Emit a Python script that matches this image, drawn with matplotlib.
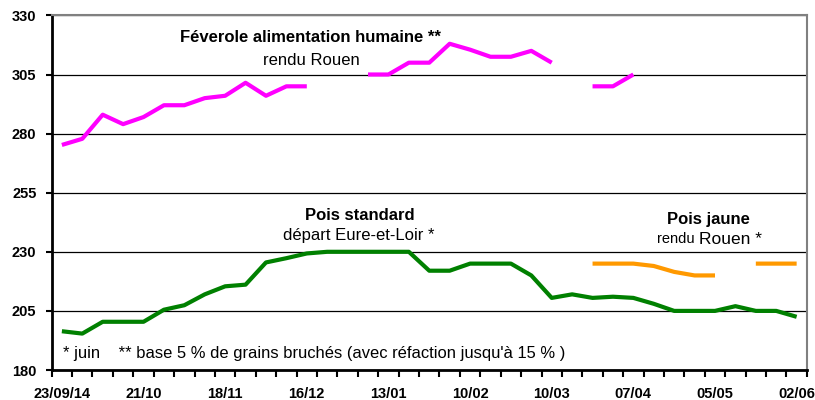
import numpy as np
import matplotlib
matplotlib.use("Agg")
import matplotlib.pyplot as plt

nan = np.nan

# weekly prices, 23/09/14 -> 02/06/15 (37 weeks), euros/t
weeks = list(range(37))
tick_labels = ["23/09/14", "21/10", "18/11", "16/12", "13/01",
               "10/02", "10/03", "07/04", "05/05", "02/06"]

feverole = [275.2, 277.8, 288, 284, 287, 292, 292, 295, 296, 301.5,
            296, 300, 300, nan, nan, 305, 305, 310, 310, 318,
            315.5, 312.5, 312.5, 315, 310, nan, 300, 300, 305, nan,
            nan, nan, nan, nan, nan, nan, nan]

pois_std = [196.4, 195.4, 200.4, 200.4, 200.4, 205.5, 207.4, 212, 215.4, 216.1,
            225.5, 227.3, 229.3, 230, 230, 230, 230, 230, 222, 222,
            225, 225, 225, 220, 210.5, 212, 210.5, 211, 210.5, 208,
            205, 205, 205, 207, 205, 205, 202.5]

pois_jaune = [nan] * 26 + [225, 225, 225, 224, 221.5, 220, 220, nan, 225, 225, 225]

plt.rcParams["font.family"] = ["Liberation Sans", "DejaVu Sans"]

fig = plt.figure(figsize=(8.15, 4), dpi=100)
ax = fig.add_axes([0.0634, 0.075, 0.9266, 0.8865])

ax.plot(weeks, feverole, color="#FF00FF", lw=3, solid_capstyle="butt")
ax.plot(weeks, pois_std, color="#008000", lw=3, solid_capstyle="butt")
ax.plot(weeks, pois_jaune, color="#FF9900", lw=3, solid_capstyle="butt")

ax.set_xlim(-0.5, 36.5)
ax.set_ylim(180, 330)

yt = np.arange(180, 331, 25)
ax.set_yticks(yt)
ax.set_yticklabels([str(v) for v in yt], fontweight="bold", fontsize=10.5)
ax.grid(axis="y", color="black", lw=0.9)
ax.set_axisbelow(True)

# ticks between categories, labels every 4 weeks
ax.set_xticks(np.arange(-0.5, 37, 1))
ax.set_xticklabels([])
ax.set_xticks(weeks[::4], minor=True)
ax.set_xticklabels(tick_labels, minor=True, fontweight="bold", fontsize=10.5)
ax.tick_params(axis="x", which="major", length=5, width=1.5, direction="out")
ax.tick_params(axis="x", which="minor", length=0, pad=12)
ax.tick_params(axis="y", length=4, width=1.5, pad=7)

for s in ["left", "bottom"]:
    ax.spines[s].set_linewidth(2)
    ax.spines[s].set_color("black")
for s in ["top", "right"]:
    ax.spines[s].set_linewidth(1.5)
    ax.spines[s].set_color("#808080")

ax.text(12.18, 320.8, "Féverole alimentation humaine **", ha="center", va="center",
        fontsize=12, fontweight="bold")
ax.text(12.2, 311.0, "rendu Rouen", ha="center", va="center", fontsize=12)
ax.text(14.6, 245.4, "Pois standard", ha="center", va="center",
        fontsize=12, fontweight="bold")
ax.text(14.56, 237.0, "départ Eure-et-Loir *", ha="center", va="center", fontsize=12)
ax.text(31.7, 243.7, "Pois jaune", ha="center", va="center",
        fontsize=12, fontweight="bold")
# "rendu" is set smaller than "Rouen *" in the original
ax.text(31.2, 235.3, "rendu ", ha="right", va="center", fontsize=10.5)
ax.text(31.2, 235.3, "Rouen *", ha="left", va="center", fontsize=12.5)
ax.text(0.05, 186.8, "* juin    ** base 5 % de grains bruchés (avec réfaction jusqu'à 15 % )",
        ha="left", va="center", fontsize=11.9)

fig.savefig("out.png", dpi=100)
